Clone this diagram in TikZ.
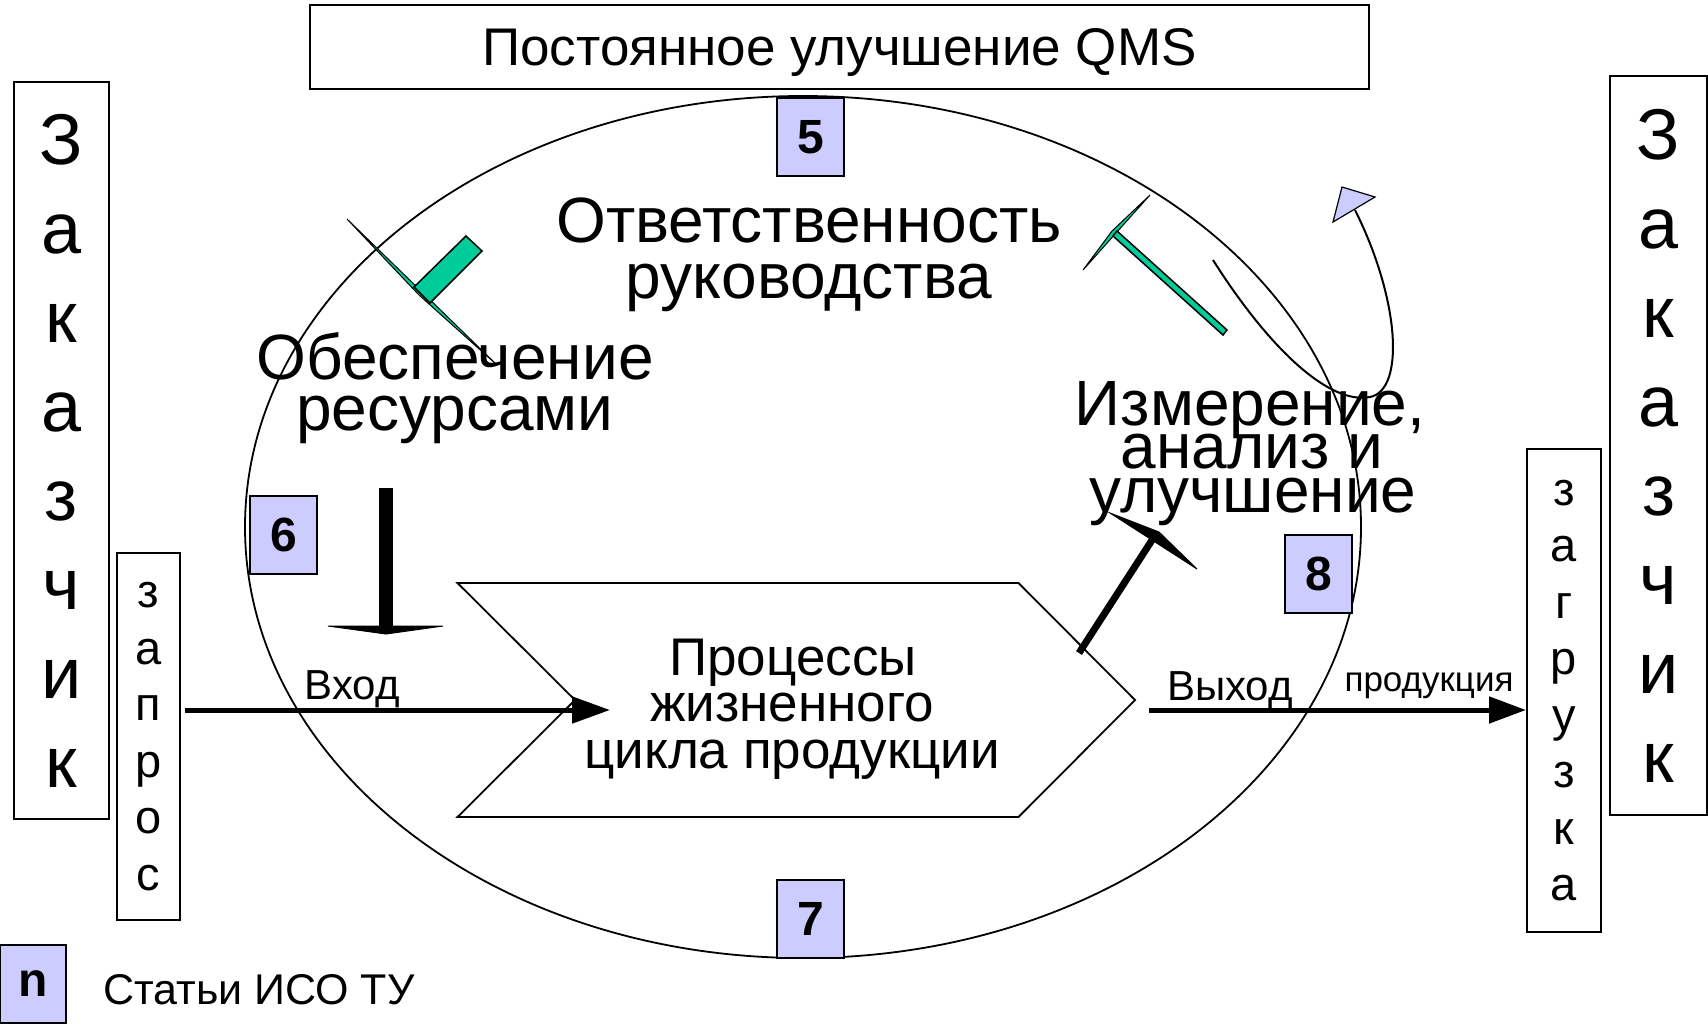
\documentclass[tikz,border=0pt]{standalone}
\usepackage{fontspec}
\setmainfont{Liberation Sans}
\usetikzlibrary{arrows.meta,shapes.geometric}
\definecolor{lavender}{HTML}{CCCCFF}
\definecolor{mint}{HTML}{00CC99}
\tikzset{
  numbox/.style={draw,line width=2pt,fill=lavender,inner sep=0pt,minimum width=67pt,minimum height=78pt,font=\fontsize{48}{54}\selectfont\bfseries},
  sidebox/.style={draw,line width=2pt,inner sep=0pt,align=center},
  bigtext/.style={anchor=base,inner sep=0pt,font=\fontsize{64}{72}\selectfont},
  midtext/.style={anchor=base,inner sep=0pt,font=\fontsize{53}{60}\selectfont},
  smalltext/.style={anchor=base,inner sep=0pt,font=\fontsize{42}{48}\selectfont},
}
\begin{document}
\begin{tikzpicture}[x=1pt,y=-1pt]
\useasboundingbox (0,0) rectangle (1708,1023);
\node[ellipse,draw,line width=1.8pt,inner sep=0pt,minimum width=1116pt,minimum height=862pt] (cycle) at (803,527) {};
\node[sidebox,minimum width=1059pt,minimum height=84pt,font=\fontsize{53}{60}\selectfont,text height=38pt,text depth=2pt] (qms) at (839.5,47) {Постоянное улучшение QMS};
\node[sidebox,minimum width=95pt,minimum height=737pt,font=\fontsize{72}{89}\selectfont] (custL) at (61.5,450.5) {З\\а\\к\\а\\з\\ч\\и\\к};
\node[sidebox,minimum width=97pt,minimum height=739pt,font=\fontsize{72}{89}\selectfont] (custR) at (1658.5,445.5) {З\\а\\к\\а\\з\\ч\\и\\к};
\node[sidebox,minimum width=63pt,minimum height=367pt,font=\fontsize{47}{56.5}\selectfont] (request) at (148.5,736.5) {з\\а\\п\\р\\о\\с};
\node[sidebox,minimum width=74pt,minimum height=483pt,font=\fontsize{47}{56.5}\selectfont] (shipment) at (1564,690.5) {з\\а\\г\\р\\у\\з\\к\\а};

\node[numbox] (n5) at (810.5,137) {5};
\node[numbox] (n6) at (283.5,535) {6};
\node[numbox] (n7) at (810.5,919) {7};
\node[numbox] (n8) at (1318.5,574) {8};
\node[numbox,minimum width=66pt] (nkey) at (33,984) {n};
\node[smalltext,anchor=base west,font=\fontsize{43}{48}\selectfont] (keytext) at (103,1004) {Статьи ИСО ТУ};

\node[bigtext] (resp1) at (809,242) {Ответственность};
\node[bigtext] (resp2) at (809,298) {руководства};
\node[bigtext] (res1) at (455,379) {Обеспечение};
\node[bigtext] (res2) at (455,430) {ресурсами};
\node[bigtext] (meas1) at (1250,425) {Измерение,};
\node[bigtext] (meas2) at (1252,468) {анализ и};
\node[bigtext] (meas3) at (1253,512) {улучшение};

\draw[line width=1.8pt] (457.5,583) -- (1018.5,583) -- (1135,700) -- (1018.5,817) -- (457.5,817) -- (575,700) -- cycle;
\node[midtext] (proc1) at (793,675) {Процессы};
\node[midtext] (proc2) at (792,721) {жизненного};
\node[midtext] (proc3) at (792,768) {цикла продукции};

\coordinate (inA) at (185,710);
\coordinate (inB) at (610,710);
\coordinate (outA) at (1149,710);
\draw[line width=5pt,-{Triangle[width=26pt,length=38pt]}] (inA) -- (inB);
\draw[line width=5pt,-{Triangle[width=26pt,length=37pt]}] (outA) -- (outA -| shipment.west);
\node[smalltext] (inlbl) at (352,699) {Вход};
\node[smalltext] (outlbl) at (1230,700) {Выход};
\node[anchor=base,inner sep=0pt,font=\fontsize{35}{40}\selectfont] (prodlbl) at (1429,691) {продукция};

\draw[line width=14pt] (386,488) -- (386,627);
\draw[line width=1pt,fill=black] (328,626) -- (443,626) -- (386,634) -- cycle;
\draw[line width=7pt] (1079,653) -- (1154,537);
\draw[line width=1pt,fill=black] (1110,513) -- (1159,532) -- (1197,569) -- cycle;

\draw[line width=1pt,fill=mint] (347,219) -- (419,295) -- (497,365) -- cycle;
\draw[line width=1.5pt,fill=mint] (466,236) -- (482,251) -- (430,303) -- (414,287) -- cycle;
\draw[line width=1pt,fill=mint] (1083,270) -- (1112,231) -- (1150,195) -- cycle;
\draw[line width=1.5pt,fill=mint] (1117,231) -- (1227,330) -- (1223,335) -- (1113,236) -- cycle;

\draw[line width=2pt] (1213,260) .. controls (1270,350) and (1330,405) .. (1370,397) .. controls (1405,390) and (1400,300) .. (1355,210);
\draw[line width=1.2pt,fill=lavender] (1342,187) -- (1375,197) -- (1333,222) -- cycle;
\end{tikzpicture}
\end{document}
